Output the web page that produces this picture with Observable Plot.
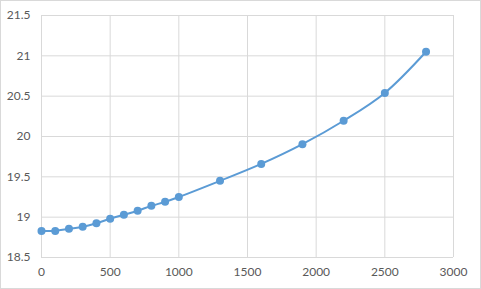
<!DOCTYPE html>
<html>
<head>
<meta charset="utf-8">
<script src="https://cdn.jsdelivr.net/npm/d3@7"></script>
<script src="https://cdn.jsdelivr.net/npm/@observablehq/plot@0.6"></script>
<style>
  html, body { margin: 0; padding: 0; background: #fff; }
  #chart svg { display: block; outline: 1px solid #d9d9d9; outline-offset: -1px; }
</style>
</head>
<body>
<div id="chart"></div>
<script>
const xValues = [0, 100, 200, 300, 400, 500, 600, 700, 800, 900, 1000, 1300, 1600, 1900, 2200, 2500, 2800];
const yValues = [18.83, 18.83, 18.855, 18.88, 18.925, 18.98, 19.03, 19.08, 19.14, 19.19, 19.25, 19.45, 19.66, 19.905, 20.195, 20.54, 21.05];
const xTicks = [0, 500, 1000, 1500, 2000, 2500, 3000];
const yTicks = [18.5, 19, 19.5, 20, 20.5, 21, 21.5];

const data = xValues.map((x, i) => ({x, y: yValues[i]}));

const chart = Plot.plot({
  width: 481,
  height: 289,
  marginLeft: 41,
  marginRight: 28,
  marginTop: 15,
  marginBottom: 32,
  style: {fontFamily: "Lato, 'Open Sans', sans-serif", fontSize: "12px", color: "#595959", background: "#fff"},
  x: {domain: [0, 3000], ticks: xTicks, label: null},
  y: {domain: [18.5, 21.5], ticks: yTicks, label: null},
  marks: [
    Plot.gridX(xTicks, {stroke: "#d9d9d9", strokeOpacity: 1, strokeWidth: 1}),
    Plot.gridY(yTicks, {stroke: "#d9d9d9", strokeOpacity: 1, strokeWidth: 1}),
    Plot.axisX({ticks: xTicks, tickSize: 0, tickPadding: 10, fill: "#595959", tickFormat: d => String(d)}),
    Plot.axisY({ticks: yTicks, tickSize: 0, tickPadding: 11, fill: "#595959", tickFormat: d => String(d)}),
    Plot.line(data, {x: "x", y: "y", curve: "catmull-rom", stroke: "#5b9bd5", strokeWidth: 2}),
    Plot.dot(data, {x: "x", y: "y", r: 4, fill: "#5b9bd5", stroke: "none"})
  ]
});
document.getElementById("chart").append(chart);
</script>
</body>
</html>
